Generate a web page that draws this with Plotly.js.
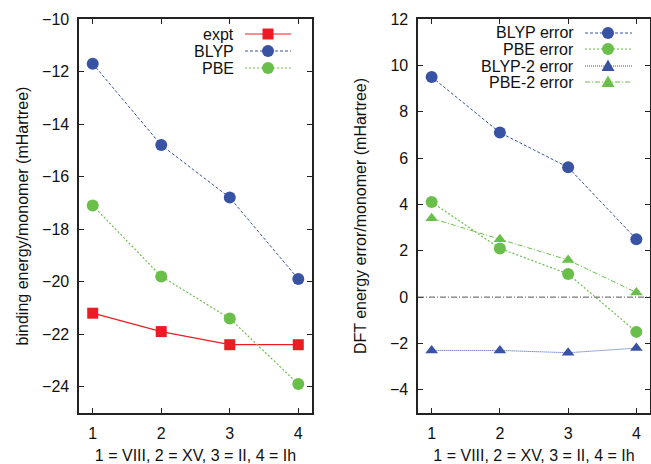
<!DOCTYPE html>
<html>
<head>
<meta charset="utf-8">
<script src="https://cdn.plot.ly/plotly-3.0.1.min.js"></script>
<style>html,body{margin:0;padding:0;background:#fff}#chart{width:651px;height:464px}</style>
</head>
<body>
<div id="chart"></div>
<script>
// ---- data ----
const structures = [1, 2, 3, 4];
const exptBinding = [-21.2, -21.9, -22.4, -22.4];
const blypBinding = [-11.7, -14.8, -16.8, -19.9];
const pbeBinding = [-17.1, -19.8, -21.4, -23.9];

const blypError = [9.5, 7.1, 5.6, 2.5];
const pbeError = [4.1, 2.1, 1.0, -1.5];
const blyp2Error = [-2.3, -2.3, -2.4, -2.2];
const pbe2Error = [3.4, 2.5, 1.6, 0.2];

const leftNames = ['expt', 'BLYP', 'PBE'];
const rightNames = ['BLYP error', 'PBE error', 'BLYP-2 error', 'PBE-2 error'];
const xTitle = '1 = VIII, 2 = XV, 3 = II, 4 = Ih';
const yTitleLeft = 'binding energy/monomer (mHartree)';
const yTitleRight = 'DFT energy error/monomer (mHartree)';

// ---- styles ----
const RED = '#ec1c24', BLUE = '#3953a4', GREEN = '#6abf4b';
const FONT = 'Liberation Sans, Arial, sans-serif';
const FS = 16;

const traces = [
  {x: structures, y: exptBinding, name: leftNames[0], mode: 'lines+markers',
   line: {color: RED, width: 1.2}, marker: {symbol: 'square', size: 11, color: RED}, xaxis: 'x', yaxis: 'y'},
  {x: structures, y: blypBinding, name: leftNames[1], mode: 'lines+markers',
   line: {color: BLUE, width: 1, dash: '3px,2px'}, marker: {symbol: 'circle', size: 12, color: BLUE}, xaxis: 'x', yaxis: 'y'},
  {x: structures, y: pbeBinding, name: leftNames[2], mode: 'lines+markers',
   line: {color: GREEN, width: 1.2, dash: '2px,2px'}, marker: {symbol: 'circle', size: 12, color: GREEN}, xaxis: 'x', yaxis: 'y'},
  {x: structures, y: blypError, name: rightNames[0], mode: 'lines+markers',
   line: {color: BLUE, width: 1, dash: '3px,2px'}, marker: {symbol: 'circle', size: 12, color: BLUE}, xaxis: 'x2', yaxis: 'y2'},
  {x: structures, y: pbeError, name: rightNames[1], mode: 'lines+markers',
   line: {color: GREEN, width: 1.2, dash: '2px,2px'}, marker: {symbol: 'circle', size: 12, color: GREEN}, xaxis: 'x2', yaxis: 'y2'},
  {x: structures, y: blyp2Error, name: rightNames[2], mode: 'lines+markers',
   line: {color: BLUE, width: 1, dash: '1px,1px'}, marker: {symbol: 'triangle-up', size: 11, color: BLUE}, xaxis: 'x2', yaxis: 'y2'},
  {x: structures, y: pbe2Error, name: rightNames[3], mode: 'lines+markers',
   line: {color: GREEN, width: 1, dash: '5px,2px,1px,2px'}, marker: {symbol: 'triangle-up', size: 11, color: GREEN}, xaxis: 'x2', yaxis: 'y2'}
];

const W = 651, H = 464;
const px = v => v / W, py = v => 1 - v / H;

const axisCommon = {
  showline: true, mirror: 'ticks', linecolor: '#222', linewidth: 1.6,
  ticks: 'inside', ticklen: 5, tickwidth: 1, tickcolor: '#222',
  showgrid: false, zeroline: false, automargin: false,
  tickfont: {family: FONT, size: FS, color: '#111'}
};

const xAxisBase = Object.assign({}, axisCommon, {
  range: [0.8, 4.2], tickvals: structures, ticktext: structures.map(String),
  ticklabelstandoff: 5,
  title: {text: xTitle, font: {family: FONT, size: FS, color: '#111'}, standoff: 12}
});

const layout = {
  width: W, height: H,
  margin: {l: 0, r: 0, t: 0, b: 0},
  paper_bgcolor: '#fff', plot_bgcolor: '#fff',
  showlegend: false,
  font: {family: FONT, color: '#111'},
  xaxis: Object.assign({}, xAxisBase, {domain: [px(79), px(312)], anchor: 'y'}),
  yaxis: Object.assign({}, axisCommon, {domain: [py(413), py(19)], anchor: 'x',
    range: [-25, -10], tickvals: [-24, -22, -20, -18, -16, -14, -12, -10], ticklabelstandoff: 5,
    title: {text: yTitleLeft, font: {family: FONT, size: FS, color: '#111'}, standoff: 9}}),
  xaxis2: Object.assign({}, xAxisBase, {domain: [px(418), px(650)], anchor: 'y2'}),
  yaxis2: Object.assign({}, axisCommon, {domain: [py(413), py(19)], anchor: 'x2',
    range: [-5, 12], tickvals: [-4, -2, 0, 2, 4, 6, 8, 10, 12], ticklabelstandoff: 5,
    title: {text: yTitleRight, font: {family: FONT, size: FS, color: '#111'}, standoff: 19}}),
  shapes: [], annotations: []
};

// zero reference line on the right panel
layout.shapes.push({type: 'line', xref: 'x2 domain', yref: 'y2', x0: 0, x1: 1, y0: 0, y1: 0,
  line: {color: '#555', width: 1, dash: '6px,2px,1px,2px'}});

// gnuplot-style key: text right-aligned, then line sample with marker
function addKey(names, styles, textRight, lineX0, lineX1, markX, rows) {
  names.forEach((n, i) => {
    const s = styles[i], y = py(rows[i]);
    layout.annotations.push({xref: 'paper', yref: 'paper', x: px(textRight), y: y,
      xanchor: 'right', yanchor: 'middle', text: n, showarrow: false, borderpad: 0,
      font: {family: FONT, size: FS, color: '#111'}});
    layout.shapes.push({type: 'line', xref: 'paper', yref: 'paper', x0: px(lineX0), x1: px(lineX1), y0: y, y1: y,
      line: {color: s.color, width: s.width, dash: s.dash}});
    const m = {xref: 'paper', yref: 'paper', xsizemode: 'pixel', ysizemode: 'pixel',
      xanchor: px(markX), yanchor: y, fillcolor: s.color, line: {width: 0}};
    if (s.symbol === 'circle') {
      layout.shapes.push(Object.assign(m, {type: 'circle', x0: -6, x1: 6, y0: -6, y1: 6}));
    } else if (s.symbol === 'square') {
      layout.shapes.push(Object.assign(m, {type: 'rect', x0: -5.5, x1: 5.5, y0: -5.5, y1: 5.5}));
    } else {
      layout.shapes.push(Object.assign(m, {type: 'path', path: 'M -6.5 -5 L 6.5 -5 L 0 6.5 Z'}));
    }
  });
}
const styleOf = t => ({color: t.line.color, width: t.line.width, dash: t.line.dash || 'solid', symbol: t.marker.symbol});
addKey(leftNames, traces.slice(0, 3).map(styleOf), 235, 245, 291, 268, [34, 51, 68]);
addKey(rightNames, traces.slice(3).map(styleOf), 575, 585, 632, 608, [33, 49, 66, 82]);

Plotly.newPlot('chart', traces, layout, {staticPlot: true});
</script>
</body>
</html>
